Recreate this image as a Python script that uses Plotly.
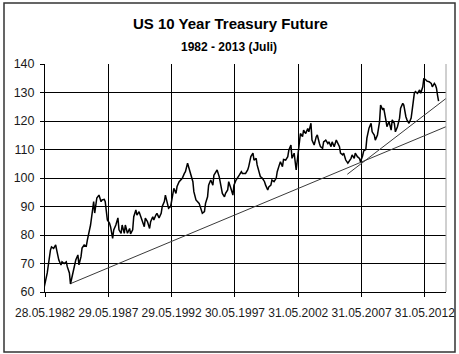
import plotly.graph_objects as go

# ---- data ----
dates = [
    "1982-05", "1982-08", "1982-11", "1982-12", "1983-02", "1983-04", "1983-05", "1983-07", "1983-09", "1983-10",
    "1983-12", "1984-02", "1984-03", "1984-05", "1984-06", "1984-08", "1984-09", "1984-11", "1985-01", "1985-02",
    "1985-04", "1985-05", "1985-07", "1985-09", "1985-10", "1985-12", "1986-01", "1986-03", "1986-04", "1986-05",
    "1986-06", "1986-07", "1986-09", "1986-11", "1986-12", "1987-02", "1987-03", "1987-05", "1987-07", "1987-08",
    "1987-10", "1987-11", "1988-01", "1988-03", "1988-04", "1988-06", "1988-07", "1988-09", "1988-10", "1988-12",
    "1989-02", "1989-03", "1989-05", "1989-06", "1989-08", "1989-09", "1989-11", "1990-01", "1990-02", "1990-04",
    "1990-05", "1990-07", "1990-09", "1990-10", "1990-12", "1991-01", "1991-03", "1991-04", "1991-06", "1991-08",
    "1991-09", "1991-11", "1991-12", "1992-02", "1992-03", "1992-05", "1992-07", "1992-08", "1992-10", "1992-11",
    "1993-01", "1993-04", "1993-06", "1993-07", "1993-09", "1993-10", "1993-12", "1994-02", "1994-03", "1994-05",
    "1994-08", "1994-10", "1994-11", "1995-01", "1995-02", "1995-04", "1995-05", "1995-07", "1995-09", "1995-10",
    "1995-12", "1996-01", "1996-03", "1996-05", "1996-06", "1996-08", "1996-09", "1996-11", "1996-12", "1997-02",
    "1997-04", "1997-05", "1997-07", "1997-10", "1997-12", "1998-01", "1998-04", "1998-06", "1998-07", "1998-09",
    "1998-11", "1998-12", "1999-02", "1999-03", "1999-05", "1999-06", "1999-08", "1999-10", "1999-11", "2000-01",
    "2000-02", "2000-04", "2000-05", "2000-07", "2000-09", "2000-10", "2000-12", "2001-01", "2001-03", "2001-04",
    "2001-06", "2001-08", "2001-09", "2001-11", "2001-12", "2002-02", "2002-04", "2002-05", "2002-07", "2002-08",
    "2002-10", "2002-11", "2003-01", "2003-03", "2003-04", "2003-06", "2003-07", "2003-09", "2003-11", "2003-12",
    "2004-02", "2004-03", "2004-05", "2004-06", "2004-08", "2004-10", "2004-11", "2005-01", "2005-02", "2005-04",
    "2005-06", "2005-07", "2005-09", "2005-10", "2005-12", "2006-01", "2006-03", "2006-05", "2006-06", "2006-08",
    "2006-09", "2006-11", "2006-12", "2007-02", "2007-04", "2007-05", "2007-07", "2007-08", "2007-10", "2007-11",
    "2008-01", "2008-03", "2008-04", "2008-06", "2008-07", "2008-09", "2008-11", "2008-12", "2009-02", "2009-03",
    "2009-05", "2009-06", "2009-08", "2009-10", "2009-11", "2010-01", "2010-02", "2010-04", "2010-06", "2010-07",
    "2010-09", "2010-10", "2010-12", "2011-01", "2011-03", "2011-05", "2011-06", "2011-08", "2011-09", "2011-11",
    "2012-01", "2012-02", "2012-04", "2012-05", "2012-07", "2012-08", "2012-10", "2012-12", "2013-01", "2013-03",
    "2013-04", "2013-05", "2013-06", "2013-07",
]
prices = [
    61.5, 66.7, 74.7, 75.8, 75.3, 76.5, 74.7, 71.2, 69.5, 70.6,
    70.0, 70.6, 68.9, 66.7, 62.8, 66.0, 67.7, 71.2, 73.0, 69.5,
    72.4, 75.4, 76.5, 76.1, 78.2, 81.8, 83.5, 88.8, 91.7, 87.7,
    91.2, 93.0, 94.0, 91.7, 92.3, 92.5, 91.7, 85.3, 84.2, 82.9,
    78.8, 81.8, 83.5, 86.0, 81.8, 80.6, 83.5, 80.6, 83.5, 80.6,
    82.3, 80.4, 81.8, 86.4, 88.8, 87.0, 88.2, 85.9, 84.7, 82.9,
    85.9, 84.7, 82.3, 84.7, 86.4, 85.3, 87.0, 87.6, 86.0, 87.6,
    90.0, 91.7, 94.0, 90.5, 89.4, 90.0, 95.2, 96.4, 94.6, 97.0,
    98.7, 99.9, 101.6, 102.2, 105.2, 104.0, 101.6, 98.7, 95.2, 92.3,
    91.1, 88.8, 87.6, 88.2, 91.1, 93.4, 97.5, 99.3, 97.5, 101.0,
    102.2, 102.8, 100.5, 96.9, 94.6, 93.4, 94.6, 95.8, 98.7, 96.4,
    94.0, 97.5, 99.3, 101.0, 102.2, 101.6, 101.6, 102.8, 104.0, 107.5,
    108.7, 106.3, 106.9, 104.6, 102.2, 100.5, 99.9, 98.7, 97.5, 95.8,
    96.9, 97.5, 99.3, 98.7, 99.9, 102.2, 104.6, 105.7, 104.0, 106.5,
    106.3, 107.5, 109.8, 111.6, 106.9, 108.7, 102.8, 106.3, 111.0, 115.6,
    114.5, 116.8, 115.6, 117.4, 116.2, 119.2, 113.3, 111.6, 114.5, 115.1,
    112.1, 111.0, 110.4, 112.7, 113.3, 112.1, 112.7, 111.0, 112.7, 111.0,
    113.3, 112.7, 111.0, 108.7, 108.1, 108.7, 106.3, 105.2, 105.7, 106.9,
    108.1, 106.9, 108.7, 107.5, 106.9, 105.7, 107.8, 109.5, 110.0, 114.0,
    117.5, 119.2, 116.2, 115.1, 113.3, 115.1, 119.8, 125.6, 123.9, 124.5,
    120.4, 118.0, 119.8, 116.8, 120.4, 119.2, 116.2, 118.0, 121.0, 124.5,
    126.2, 125.6, 121.5, 120.4, 119.2, 121.0, 123.9, 129.7, 130.3, 129.7,
    130.9, 129.7, 132.0, 135.0, 134.4, 134.0, 133.8, 133.2, 132.0, 133.2,
    132.6, 131.5, 129.0, 127.0,
]

# trend lines (start / end points)
trend1_dates = ["1984-06-15", "2014-01-31"]
trend1_vals = [63.0, 118.0]
trend2_dates = ["2006-04-15", "2014-01-31"]
trend2_vals = [101.3, 127.9]

tick_dates = ["1982-05-28", "1987-05-29", "1992-05-29", "1997-05-30", "2002-05-31", "2007-05-31", "2012-05-31"]
tick_labels = ["28.05.1982", "29.05.1987", "29.05.1992", "30.05.1997", "31.05.2002", "31.05.2007", "31.05.2012"]
y_ticks = [60, 70, 80, 90, 100, 110, 120, 130, 140]

title_text = "US 10 Year Treasury Future"
subtitle_text = "1982 - 2013 (Juli)"

FONT = "Liberation Sans, Arial, sans-serif"

fig = go.Figure()
fig.add_trace(go.Scatter(x=trend1_dates, y=trend1_vals, mode="lines",
                         line=dict(color="#3a3a3a", width=1), hoverinfo="skip"))
fig.add_trace(go.Scatter(x=trend2_dates, y=trend2_vals, mode="lines",
                         line=dict(color="#3a3a3a", width=1), hoverinfo="skip"))
fig.add_trace(go.Scatter(x=dates, y=prices, mode="lines",
                         line=dict(color="#000000", width=1.5)))

W, H = 459, 354
L, R, T, B = 45, 13, 64, 62
pw, ph = W - L - R, H - T - B

fig.update_layout(
    width=W, height=H,
    margin=dict(l=L, r=R, t=T, b=B, autoexpand=False),
    paper_bgcolor="white", plot_bgcolor="white",
    showlegend=False,
    font=dict(family=FONT, color="#1a1a1a", size=12),
    xaxis=dict(
        type="date", range=["1982-05-28", "2014-01-31"],
        tickvals=tick_dates, ticktext=tick_labels, tickangle=0,
        showgrid=True, gridcolor="#000000", gridwidth=1,
        showline=True, linecolor="#000000", linewidth=1,
        ticks="outside", ticklen=4, tickcolor="#000000",
        tickfont=dict(size=12, family=FONT, color="#1a1a1a"),
        ticklabelstandoff=6, zeroline=False, automargin=False,
    ),
    yaxis=dict(
        range=[60, 140], tickvals=y_ticks,
        showgrid=True, gridcolor="#000000", gridwidth=1,
        showline=True, linecolor="#000000", linewidth=1,
        ticks="outside", ticklen=4, tickcolor="#000000",
        tickfont=dict(size=12.5, family=FONT, color="#1a1a1a"),
        ticklabelstandoff=3, zeroline=False, automargin=False,
    ),
    annotations=[
        dict(text="<b>" + title_text + "</b>", xref="paper", yref="paper",
             x=(230 - L) / pw, y=(H - B - 23) / ph, xanchor="center", yanchor="middle",
             showarrow=False, font=dict(size=15, family=FONT, color="#000000")),
        dict(text="<b>" + subtitle_text + "</b>", xref="paper", yref="paper",
             x=(229 - L) / pw, y=(H - B - 47) / ph, xanchor="center", yanchor="middle",
             showarrow=False, font=dict(size=12, family=FONT, color="#000000")),
    ],
    shapes=[
        # plot area right border (light gray)
        dict(type="line", xref="paper", yref="paper", x0=1, x1=1, y0=0, y1=1,
             line=dict(color="#a0a0a0", width=1)),
        # outer chart border
        dict(type="rect", xref="paper", yref="paper",
             x0=(4 - L) / pw, x1=(455 - L) / pw,
             y0=(H - B - 352) / ph, y1=(H - B - 3) / ph,
             line=dict(color="#333333", width=1.5), fillcolor="rgba(0,0,0,0)"),
    ],
)

fig.write_html("out.html")
